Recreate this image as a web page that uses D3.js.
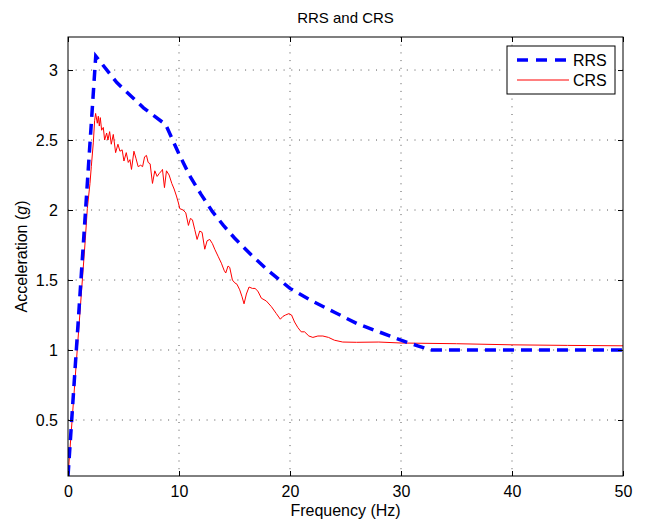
<!DOCTYPE html>
<html>
<head>
<meta charset="utf-8">
<script src="https://cdn.jsdelivr.net/npm/d3@7"></script>
<style>
  body { margin: 0; background: #fff; }
  text { font-family: "Liberation Sans", Arial, sans-serif; fill: #000; }
</style>
</head>
<body>
<div id="chart"></div>
<script>
// required response spectrum (RRS)
const rrsFreq = [0, 2.5, 4.4, 6.8, 8.8, 10, 11, 12, 13, 14, 15, 16.5, 18, 20, 22, 24, 26, 28, 30, 31.5, 32.7, 50];
const rrsAcc  = [0.1, 3.1, 2.91, 2.73, 2.61, 2.40, 2.24, 2.11, 1.99, 1.89, 1.80, 1.68, 1.57, 1.44, 1.35, 1.27, 1.19, 1.13, 1.07, 1.03, 1.0, 1.0];

// computed response spectrum (CRS)
const crsFreq = [0, 1.55, 1.74, 1.98, 2.10, 2.28, 2.40, 2.49, 2.64, 2.73, 2.82, 2.91, 3.03, 3.18, 3.30, 3.48, 3.60, 3.75, 3.90, 4.08,
  4.29, 4.50, 4.68, 4.88, 5.04, 5.25, 5.43, 5.58, 5.72, 5.94, 6.12, 6.32, 6.54, 6.72, 6.90, 7.07, 7.22, 7.40, 7.61, 7.82,
  8.03, 8.21, 8.43, 8.51, 8.69, 8.87, 9.11, 9.35, 9.56, 9.77, 9.95, 10.07, 10.37, 10.61, 10.85, 11.03, 11.21, 11.42, 11.63, 11.87,
  12.08, 12.32, 12.53, 12.77, 13.01, 13.22, 13.52, 13.82, 14.06, 14.21, 14.42, 14.57, 14.81, 15.02, 15.22, 15.47, 15.68, 15.86, 16.07, 16.31,
  16.61, 16.85, 17.11, 17.42, 17.87, 18.32, 18.77, 19.13, 19.36, 19.60, 19.90, 20.14, 20.41, 20.71, 21.01, 21.31, 21.70, 22.06, 22.51, 22.96,
  23.47, 24.0, 24.75, 26, 28, 30, 35, 40, 45, 50];
const crsAcc = [0.1, 1.78, 2.01, 2.19, 2.31, 2.48, 2.64, 2.69, 2.62, 2.67, 2.60, 2.66, 2.57, 2.59, 2.50, 2.55, 2.50, 2.56, 2.47, 2.54,
  2.41, 2.47, 2.42, 2.43, 2.35, 2.41, 2.34, 2.36, 2.29, 2.42, 2.37, 2.31, 2.32, 2.31, 2.38, 2.39, 2.34, 2.33, 2.19, 2.28,
  2.24, 2.26, 2.28, 2.29, 2.16, 2.28, 2.25, 2.19, 2.15, 2.10, 2.05, 2.01, 2.00, 1.98, 1.89, 1.94, 1.93, 1.86, 1.79, 1.85,
  1.84, 1.72, 1.78, 1.79, 1.76, 1.72, 1.67, 1.62, 1.57, 1.55, 1.60, 1.59, 1.50, 1.48, 1.47, 1.43, 1.38, 1.33, 1.40, 1.45,
  1.44, 1.44, 1.42, 1.37, 1.35, 1.31, 1.26, 1.22, 1.24, 1.25, 1.26, 1.25, 1.20, 1.16, 1.13, 1.13, 1.10, 1.09, 1.10, 1.10,
  1.09, 1.07, 1.057, 1.055, 1.057, 1.05, 1.045, 1.037, 1.033, 1.03];

const xTicks = [0, 10, 20, 30, 40, 50];
const yTicks = [0.5, 1, 1.5, 2, 2.5, 3];
const seriesNames = ["RRS", "CRS"];

const width = 646, height = 521;
const margin = { top: 37, right: 23, bottom: 45, left: 68 };
const w = width - margin.left - margin.right;
const h = height - margin.top - margin.bottom;

const svg = d3.select("#chart").append("svg")
  .attr("width", width)
  .attr("height", height);

const g = svg.append("g").attr("transform", `translate(${margin.left},${margin.top})`);

const x = d3.scaleLinear().domain([0, 50]).range([0, w]);
const y = d3.scaleLinear().domain([0.1, 3.236]).range([h, 0]);
const fmt = d3.format("~g");

// grid (dotted)
g.selectAll(".gx").data(xTicks.slice(1, -1)).enter().append("line")
  .attr("x1", d => x(d)).attr("x2", d => x(d))
  .attr("y1", 0).attr("y2", h)
  .attr("stroke", "#555").attr("stroke-width", 1)
  .attr("stroke-dasharray", "1,6.7");
g.selectAll(".gy").data(yTicks).enter().append("line")
  .attr("x1", 0).attr("x2", w)
  .attr("y1", d => y(d)).attr("y2", d => y(d))
  .attr("stroke", "#555").attr("stroke-width", 1)
  .attr("stroke-dasharray", "1,6.7");

// clip
g.append("clipPath").attr("id", "clip")
  .append("rect").attr("width", w).attr("height", h);

const line = d3.line().x(d => x(d[0])).y(d => y(d[1]));

g.append("path")
  .datum(crsFreq.map((f, i) => [f, crsAcc[i]]))
  .attr("clip-path", "url(#clip)")
  .attr("d", line)
  .attr("fill", "none")
  .attr("stroke", "#ff0000")
  .attr("stroke-width", 1);

g.append("path")
  .datum(rrsFreq.map((f, i) => [f, rrsAcc[i]]))
  .attr("clip-path", "url(#clip)")
  .attr("d", line)
  .attr("fill", "none")
  .attr("stroke", "#0000ff")
  .attr("stroke-width", 3.5)
  .attr("stroke-dasharray", "11,7");

// axes, ticks inward on all four sides
const tl = 5;
g.append("g").attr("transform", `translate(0,${h})`)
  .call(d3.axisBottom(x).tickValues(xTicks).tickFormat(fmt).tickSizeInner(-tl).tickSizeOuter(0).tickPadding(10))
  .call(a => a.select(".domain").remove());
g.append("g")
  .call(d3.axisTop(x).tickValues(xTicks).tickSizeInner(-tl).tickSizeOuter(0).tickFormat(""))
  .call(a => a.select(".domain").remove());
g.append("g")
  .call(d3.axisLeft(y).tickValues(yTicks).tickFormat(fmt).tickSizeInner(-tl).tickSizeOuter(0).tickPadding(10))
  .call(a => a.select(".domain").remove());
g.append("g").attr("transform", `translate(${w},0)`)
  .call(d3.axisRight(y).tickValues(yTicks).tickSizeInner(-tl).tickSizeOuter(0).tickFormat(""))
  .call(a => a.select(".domain").remove());

g.selectAll(".tick text").style("font-size", "16px").style("font-family", "Liberation Sans, Arial, sans-serif");
g.selectAll(".tick line").attr("stroke", "#000");

g.append("rect")
  .attr("width", w).attr("height", h)
  .attr("fill", "none").attr("stroke", "#000").attr("stroke-width", 1);

// title & labels
svg.append("text")
  .attr("x", margin.left + w / 2).attr("y", 23)
  .attr("text-anchor", "middle").style("font-size", "15px")
  .text("RRS and CRS");

svg.append("text")
  .attr("x", margin.left + w / 2).attr("y", 516)
  .attr("text-anchor", "middle").style("font-size", "16px")
  .text("Frequency (Hz)");

const yl = svg.append("text")
  .attr("transform", `translate(27,${margin.top + h / 2}) rotate(-90)`)
  .attr("text-anchor", "middle").style("font-size", "16px");
yl.append("tspan").text("Acceleration (");
yl.append("tspan").style("font-style", "italic").text("g");
yl.append("tspan").text(")");

// legend
const lg = svg.append("g").attr("transform", "translate(507,46)");
lg.append("rect").attr("width", 108).attr("height", 48)
  .attr("fill", "#fff").attr("stroke", "#000").attr("stroke-width", 1);
const styles = [{ c: "#0000ff", sw: 3.5, da: "11,8" }, { c: "#ff0000", sw: 1, da: null }];
seriesNames.forEach((name, i) => {
  const yy = 14 + i * 20;
  lg.append("line").attr("x1", 10).attr("x2", 62).attr("y1", yy).attr("y2", yy)
    .attr("stroke", styles[i].c).attr("stroke-width", styles[i].sw)
    .attr("stroke-dasharray", styles[i].da);
  lg.append("text").attr("x", 66).attr("y", yy + 6).style("font-size", "16px").text(name);
});
</script>
</body>
</html>
